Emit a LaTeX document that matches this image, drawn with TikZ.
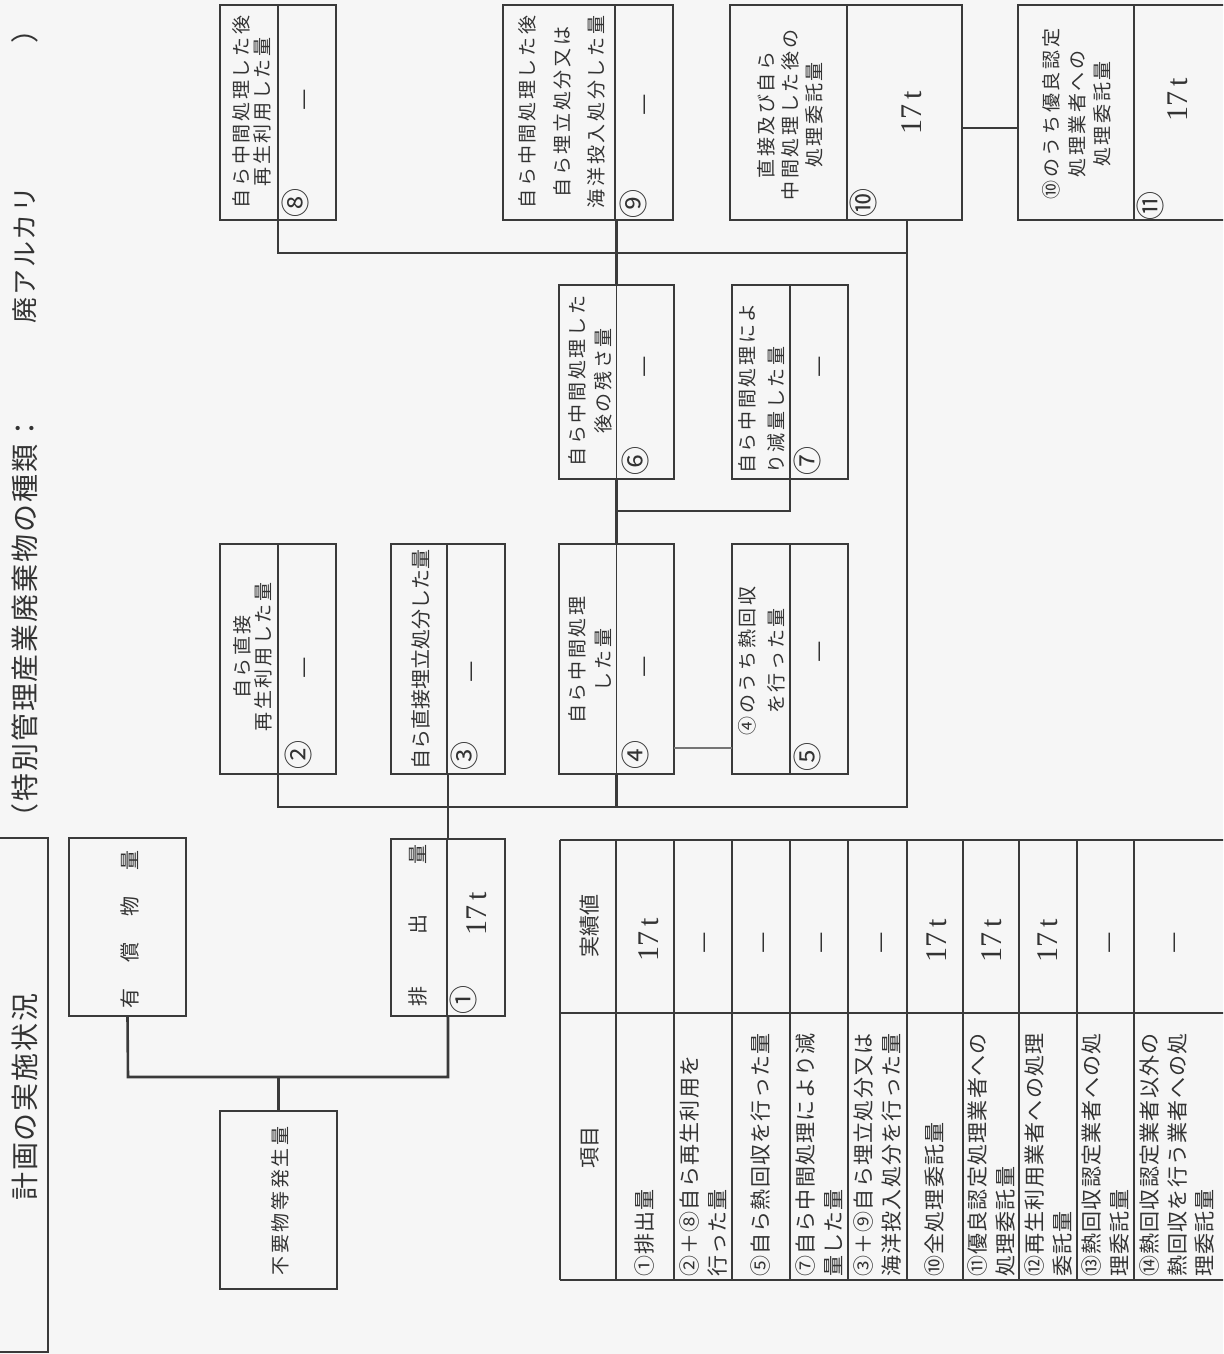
\documentclass[tikz,border=0pt]{standalone}
\usepackage{fontspec}
\newfontfamily\jp{Noto Sans CJK JP}
\newfontfamily\jpA{Noto Sans CJK JP}[LetterSpace=14]
\newfontfamily\jpB{Noto Sans CJK JP}[LetterSpace=6]
\newfontfamily\jpC{Noto Sans CJK JP}[LetterSpace=7]
\newfontfamily\tnr{Liberation Serif}
\definecolor{lc}{HTML}{3A3A3A}
\definecolor{tc}{HTML}{333333}
\definecolor{bg}{HTML}{F6F6F6}
\begin{document}
\begin{tikzpicture}[x=1pt,y=-1pt,
  bx/.style={draw=lc, line width=2.6pt, inner sep=0pt, outer sep=0pt},
  dv/.style={draw=lc, line width=1.8pt},
  conn/.style={draw=lc, line width=2.6pt},
  rt/.style={rotate=90, inner sep=0pt, text=tc},
  lab/.style={rt, align=center, font=\jpA\fontsize{19}{21}\selectfont},
  num/.style={rt, font=\jp\fontsize{29}{30}\selectfont},
  dsh/.style={rt, font=\jp\fontsize{24}{24}\selectfont},
  val/.style={rt, font=\tnr\fontsize{30}{32}\selectfont},
  itm/.style={rt, anchor=west, align=left, font=\jpB\fontsize{21}{28}\selectfont}]
\useasboundingbox (0,0) rectangle (1223,1354);
\fill[bg] (0,0) rectangle (1223,1354);
\begin{scope}
\clip (0,0) rectangle (1223,1354);

% title frame and titles
\draw[conn] (0,838) -- (48,838) -- (48,1352) -- (0,1352);
\node[rt, font=\jpC\fontsize{28}{30}\selectfont] (title) at (25,1097) {計画の実施状況};
\node[rt, anchor=west, font=\jpC\fontsize{28}{30}\selectfont] (kind) at (25,832) {（特別管理産業廃棄物の種類：};
\node[rt, font=\jpC\fontsize{26}{28}\selectfont] (kindv) at (25,255) {廃アルカリ};
\node[rt, font=\jpC\fontsize{28}{30}\selectfont] (kindc) at (25,30) {）};

% boxes
\node[bx, minimum width=116pt, minimum height=215pt] (b8) at (278,112.5) {};
\node[bx, minimum width=116pt, minimum height=230pt] (b2) at (278,659) {};
\node[bx, minimum width=117pt, minimum height=178pt] (bF) at (278.5,1200) {};
\node[bx, minimum width=117pt, minimum height=178pt] (bY) at (127.5,927) {};
\node[bx, minimum width=114pt, minimum height=177pt] (b1) at (448,927.5) {};
\node[bx, minimum width=114pt, minimum height=230pt] (b3) at (448,659) {};
\node[bx, minimum width=170pt, minimum height=215pt] (b9) at (588,112.5) {};
\node[bx, minimum width=115pt, minimum height=230pt] (b4) at (616.5,659) {};
\node[bx, minimum width=115pt, minimum height=194pt] (b6) at (616.5,382) {};
\node[bx, minimum width=116pt, minimum height=230pt] (b5) at (790,659) {};
\node[bx, minimum width=116pt, minimum height=194pt] (b7) at (790,382) {};
\node[bx, minimum width=232pt, minimum height=215pt] (b10) at (846,112.5) {};
\node[bx, minimum width=232pt, minimum height=215pt] (b11) at (1134,112.5) {};

% dividers
\draw[dv] (b8.north) -- (b8.south);
\draw[dv] (b2.north) -- (b2.south);
\draw[dv] ([xshift=-1pt]b1.north) -- ([xshift=-1pt]b1.south);
\draw[dv] ([xshift=-1pt]b3.north) -- ([xshift=-1pt]b3.south);
\draw[dv] ([xshift=27pt]b9.north) -- ([xshift=27pt]b9.south);
\draw[dv] (b4.north) -- (b4.south);
\draw[dv] (b6.north) -- (b6.south);
\draw[dv] (b5.north) -- (b5.south);
\draw[dv] (b7.north) -- (b7.south);
\draw[dv] ([xshift=1pt]b10.north) -- ([xshift=1pt]b10.south);
\draw[dv] (b11.north) -- (b11.south);

% connectors
\coordinate (jT) at (907,253);
\coordinate (jB) at (907,807);
\coordinate (j7) at (790,511);
\coordinate (k45) at (700,748);
\coordinate (k1011) at (990,128);
\coordinate (jL) at (128,1077);
\draw[conn] (b8.south) |- (jT);
\draw[conn] (b10.south -| jT) -- (jB) -| (b2.south);
\draw[conn] (b4.south) -- (b4.south |- jB);
\draw[conn] (b3.south) -- (b1.north);
\draw[conn] (b9.south -| b6.north) -- (b6.north);
\draw[conn] (b6.south) -- (b4.north);
\draw[conn] (b7.south) -- (j7) -- (j7 -| b6.south);
\draw[draw=lc!70, line width=2pt] (b4.east |- k45) -- (b5.west |- k45);
\draw[conn] (b10.east |- k1011) -- (b11.west |- k1011);
\draw[conn] (bY.south) -- (jL) -| (b1.south);
\draw[conn] (bF.north) -- (bF.north |- jL);

% box texts
\node[lab] (l8) at (252,112) {自ら中間処理した後\\再生利用した量};
\node[num] (n8) at (295,203) {⑧};
\node[dsh] (v8) at (308,100) {—};

\node[lab] (l2) at (253,657) {自ら直接\\再生利用した量};
\node[num] (n2) at (298,755) {②};
\node[dsh] (v2) at (308,668) {—};

\node[lab, font=\jp\fontsize{20}{22}\selectfont] (l3) at (421,659) {自ら直接埋立処分した量};
\node[num] (n3) at (464,756) {③};
\node[dsh] (v3) at (475,672) {—};

\node[lab, font=\jp\fontsize{20}{22}\selectfont] (l1) at (418,925) {排\hspace{52pt}出\hspace{50pt}量};
\node[num] (n1) at (463,1000) {①};
\node[val] (v1) at (477,914) {17\,t};

\node[lab, font=\jp\fontsize{20}{22}\selectfont] (lY) at (130,929) {有\hspace{26pt}償\hspace{26pt}物\hspace{26pt}量};
\node[lab] (lF) at (280,1201) {不要物等発生量};

\node[lab, font=\jpA\fontsize{19}{26}\selectfont] (l4) at (590,660) {自ら中間処理\\した量};
\node[num] (n4) at (635,755) {④};
\node[dsh] (v4) at (648,667) {—};

\node[lab, font=\jpA\fontsize{19}{29}\selectfont] (l5) at (762,661) {④のうち熱回収\\を行った量};
\node[num] (n5) at (807,757) {⑤};
\node[dsh] (v5) at (823,652) {—};

\node[lab, font=\jpA\fontsize{19}{26}\selectfont] (l6) at (590,381) {自ら中間処理した\\後の残さ量};
\node[num] (n6) at (635,461) {⑥};
\node[dsh] (v6) at (648,367) {—};

\node[lab, anchor=west, align=left, font=\jpA\fontsize{19}{29}\selectfont] (l7) at (762,474) {自ら中間処理によ\\り減量した量};
\node[num] (n7) at (807,461) {⑦};
\node[dsh] (v7) at (823,367) {—};

\node[lab, font=\jpA\fontsize{19}{34.5}\selectfont] (l9) at (562,112) {自ら中間処理した後\\自ら埋立処分又は\\海洋投入処分した量};
\node[num] (n9) at (633,204) {⑨};
\node[dsh] (v9) at (648,105) {—};

\node[lab, font=\jpA\fontsize{19}{24}\selectfont] (l10) at (790,115) {直接及び自ら\\中間処理した後の\\処理委託量};
\node[num] (n10) at (863,203) {⑩};
\node[val] (v10) at (912,113) {17\,t};

\node[lab, font=\jpA\fontsize{19}{25.5}\selectfont] (l11) at (1077,114) {⑩のうち優良認定\\処理業者への\\処理委託量};
\node[num] (n11) at (1150,206) {⑪};
\node[val] (v11) at (1178,100) {17\,t};

% table
\draw[conn] (560,840) -- (1240,840);
\draw[conn] (560,1280) -- (1240,1280);
\draw[conn] (560,1013) -- (1240,1013);
\foreach \xx in {560,616,674,732,790,848,907,963,1019,1077,1134}
  \draw[conn] (\xx,840) -- (\xx,1280);

\node[rt, font=\jp\fontsize{21}{22}\selectfont] (th1) at (590,1147) {項目};
\node[rt, font=\jp\fontsize{21}{22}\selectfont] (th2) at (590,926) {実績値};

\node[itm] (r1) at (645,1277) {①排出量};
\node[itm] (r2) at (703,1277) {②＋⑧自ら再生利用を\\行った量};
\node[itm] (r3) at (761,1277) {⑤自ら熱回収を行った量};
\node[itm] (r4) at (819,1277) {⑦自ら中間処理により減\\量した量};
\node[itm] (r5) at (877,1277) {③＋⑨自ら埋立処分又は\\海洋投入処分を行った量};
\node[itm] (r6) at (935,1277) {⑩全処理委託量};
\node[itm] (r7) at (991,1277) {⑪優良認定処理業者への\\処理委託量};
\node[itm] (r8) at (1048,1277) {⑫再生利用業者への処理\\委託量};
\node[itm] (r9) at (1105,1277) {⑬熱回収認定業者への処\\理委託量};
\node[itm, font=\jpB\fontsize{21}{27.5}\selectfont] (r10) at (1177,1277) {⑭熱回収認定業者以外の\\熱回収を行う業者への処\\理委託量};

\node[val] (w1) at (649,940) {17\,t};
\node[dsh] (w2) at (708,943) {—};
\node[dsh] (w3) at (767,943) {—};
\node[dsh] (w4) at (825,943) {—};
\node[dsh] (w5) at (885,943) {—};
\node[val] (w6) at (937,941) {17\,t};
\node[val] (w7) at (992,941) {17\,t};
\node[val] (w8) at (1048,941) {17\,t};
\node[dsh] (w9) at (1113,943) {—};
\node[dsh] (w10) at (1178,943) {—};
\end{scope}
\end{tikzpicture}
\end{document}
